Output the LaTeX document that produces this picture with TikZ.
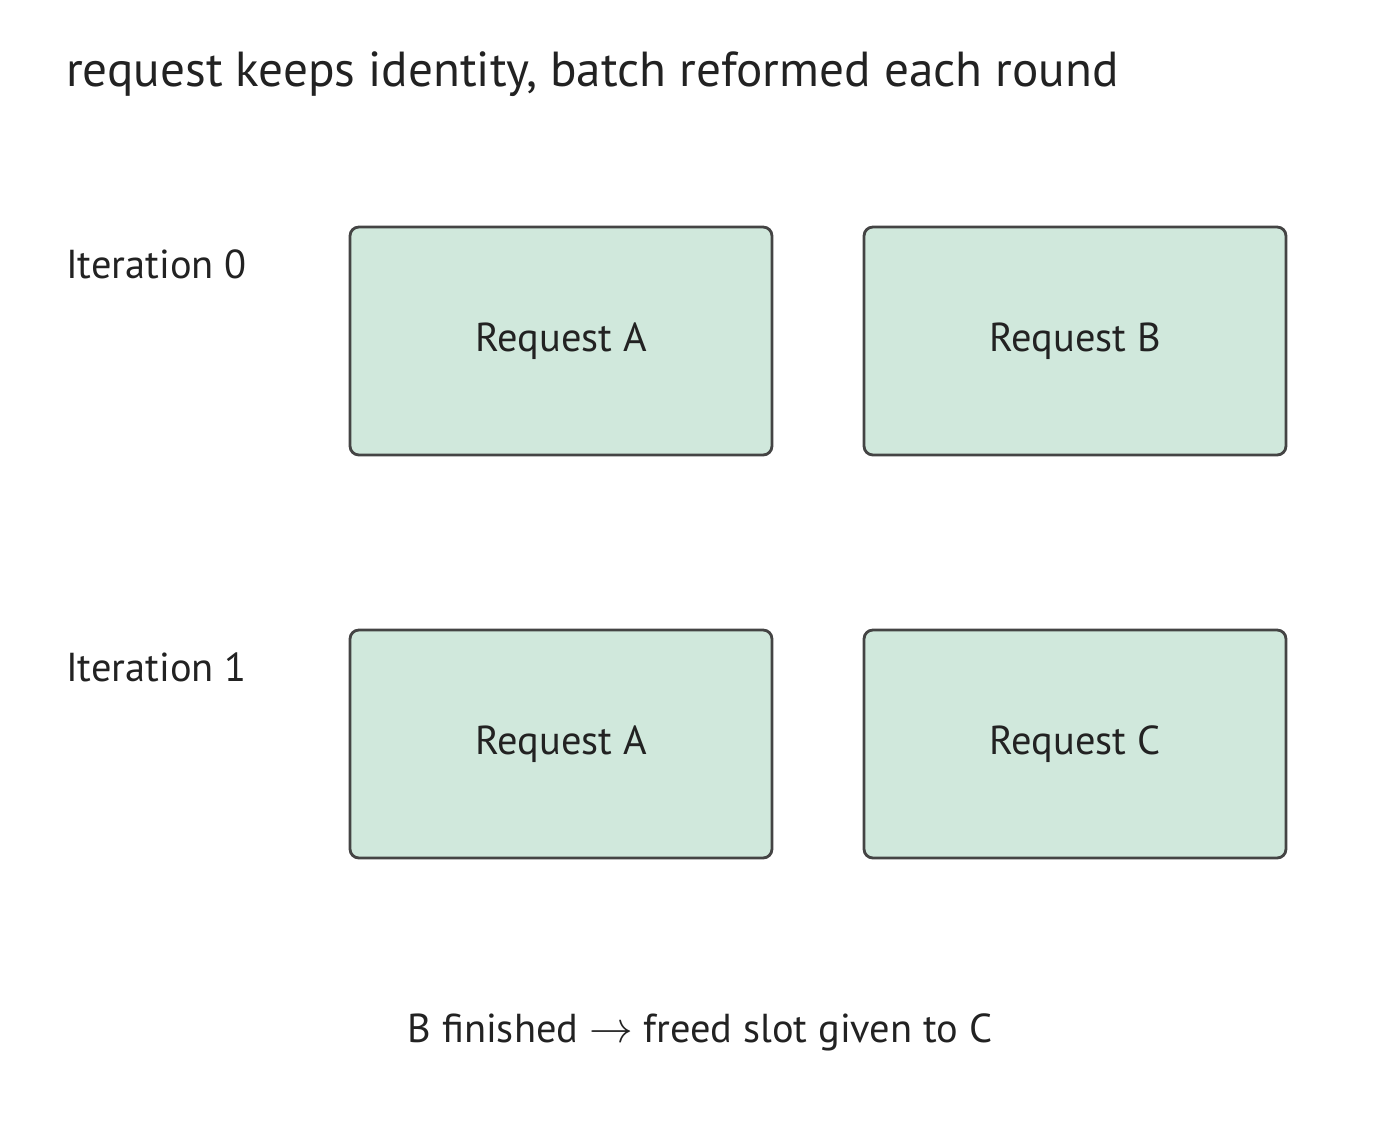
\documentclass[tikz,border=0pt]{standalone}
\usepackage{fontspec}
\setmainfont{PT Sans}
\usetikzlibrary{positioning}
\definecolor{boxfill}{HTML}{D0E8DC}
\definecolor{boxline}{HTML}{444444}
\definecolor{inktext}{HTML}{222222}

\begin{document}
\begin{tikzpicture}[x=0.02cm, y=-0.02cm, text=inktext,
    slot/.style={rectangle, rounded corners=5pt, draw=boxline, fill=boxfill, line width=1.6pt, minimum width=8.44cm, minimum height=4.56cm, font=\fontsize{23}{27}\selectfont},
    rowlabel/.style={anchor=base west, font=\fontsize{23}{27}\selectfont},
    caption/.style={font=\fontsize{23}{27}\selectfont}]
    \useasboundingbox (0,0) rectangle (1400,1130);

    %Nodes
    \node[anchor=base west, font=\fontsize{28}{32}\selectfont](title) at (60,86){request keeps identity, batch reformed each round};
    \node[slot](a0) at (561,341){Request A};
    \node[slot](b0) at (1075,341){Request B};
    \node[slot](a1) at (561,744){Request A};
    \node[slot](c1) at (1075,744){Request C};
    \node[rowlabel](it0) at (60,278){Iteration 0};
    \node[rowlabel](it1) at (60,681){Iteration 1};
    \node[caption](note) at (700,1032){B finished $\rightarrow$ freed slot given to C};
\end{tikzpicture}
\end{document}
